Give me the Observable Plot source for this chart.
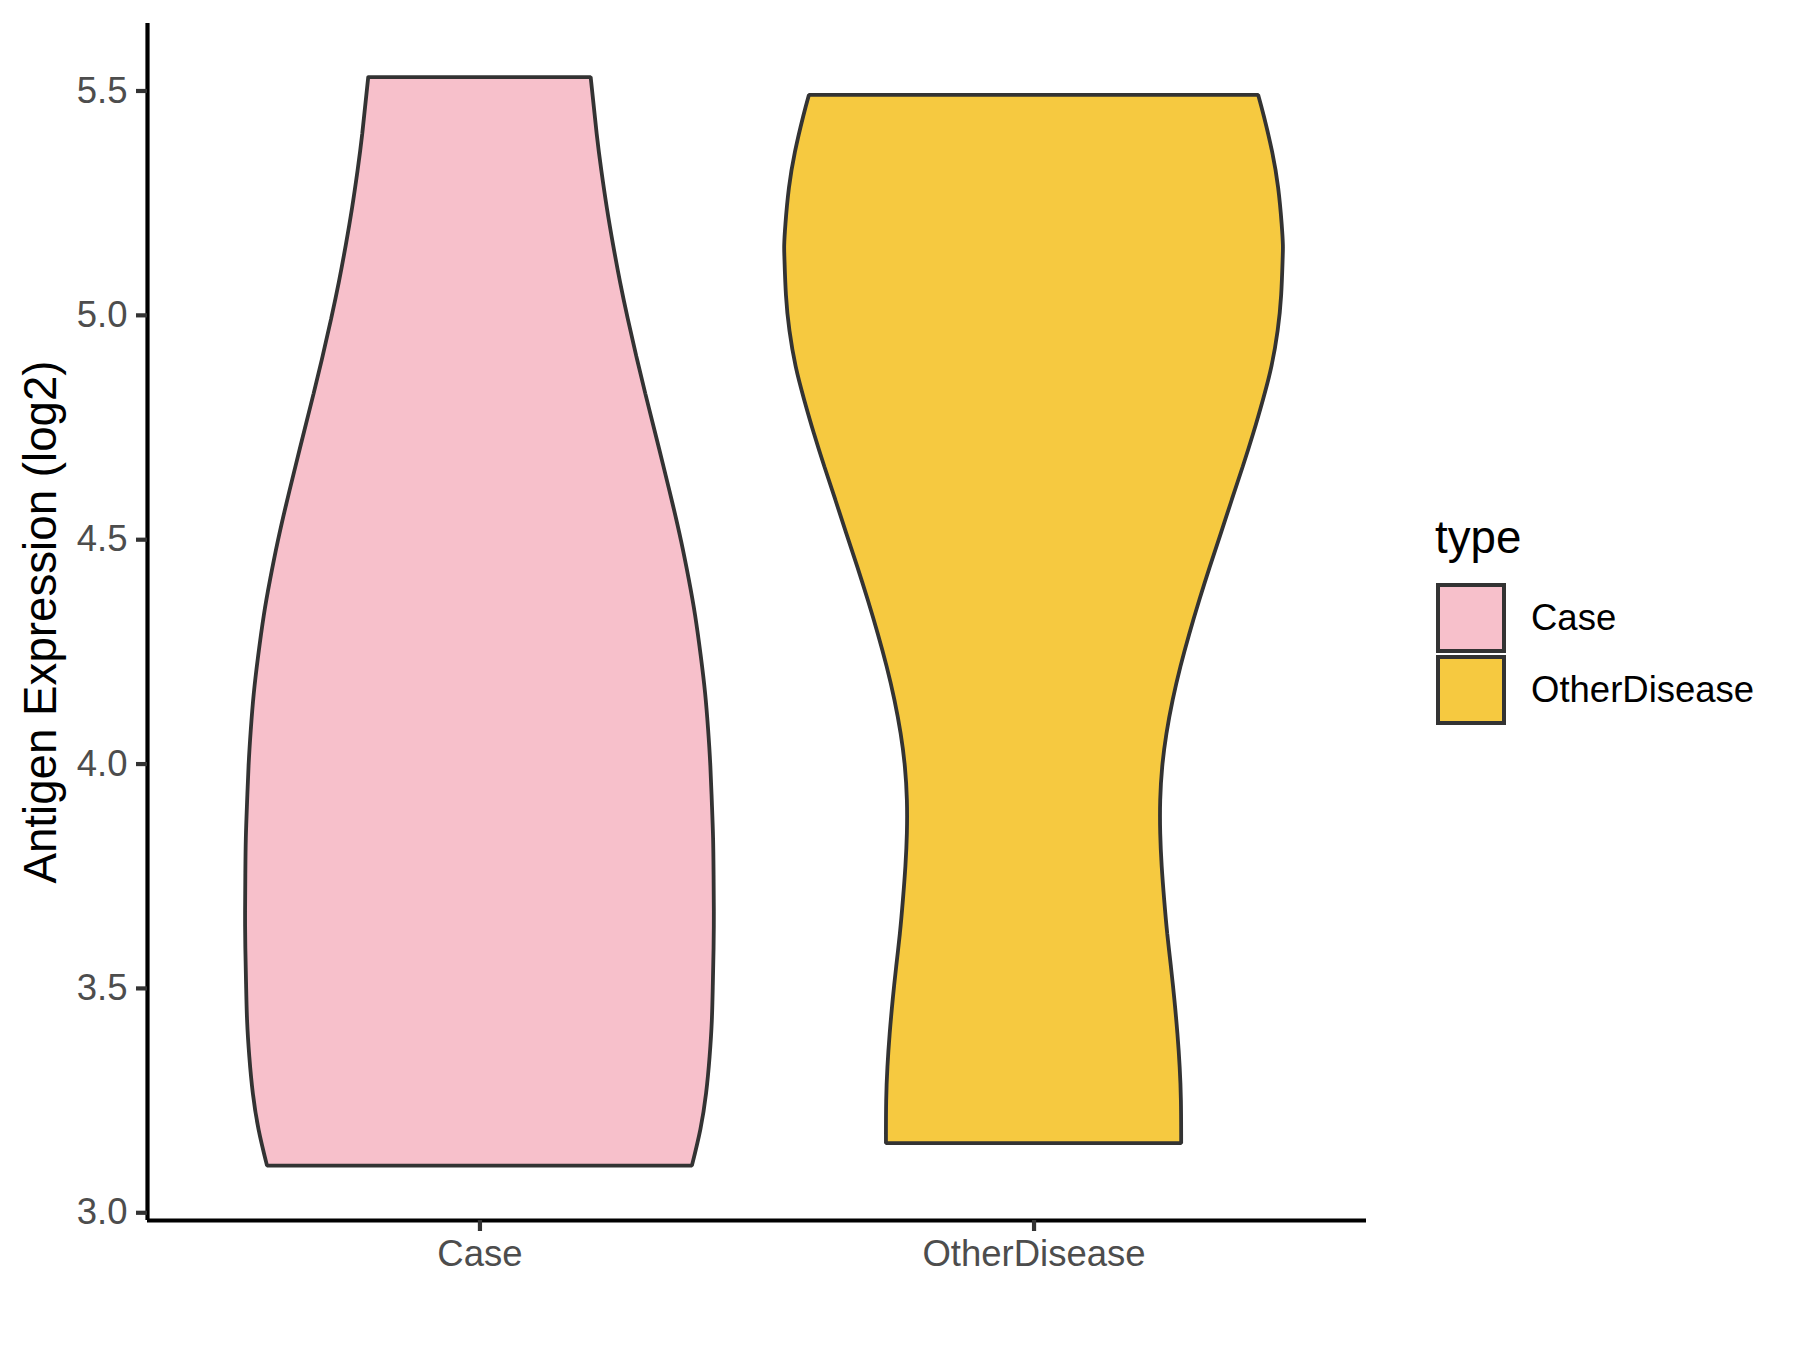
<!DOCTYPE html>
<html><head><meta charset="utf-8">
<script src="https://cdn.jsdelivr.net/npm/d3@7"></script>
<script src="https://cdn.jsdelivr.net/npm/@observablehq/plot@0.6"></script>
<style>
html,body{margin:0;padding:0;background:#fff;}
#wrap{position:relative;width:1800px;height:1350px;font-family:"Liberation Sans",Arial,Helvetica,sans-serif;}
#wrap svg{position:absolute;left:0;top:0;}
.lg{position:absolute;white-space:nowrap;line-height:1;color:#000;}
.key{position:absolute;box-sizing:border-box;border:4px solid #333;}
</style></head><body><div id="wrap"></div>
<script>
// ---- data ----
const categories = ["Case", "OtherDisease"];
const fillColors = ["#F7C0CB", "#F6C940"];
const legendTitle = "type";
const yTitle = "Antigen Expression (log2)";
const yTicks = [3.0, 3.5, 4.0, 4.5, 5.0, 5.5];
const yDomain = [2.9828, 5.6504];
const xDomain = [0.4, 2.6];

// violin outlines: expression value and scaled density (1 = widest violin)
const caseValues = [3.104, 3.185, 3.266, 3.347, 3.428, 3.509, 3.59, 3.671, 3.752, 3.833, 3.914, 3.995, 4.076, 4.157, 4.238, 4.33, 4.412, 4.495, 4.578, 4.66, 4.743, 4.825, 4.908, 4.991, 5.073, 5.156, 5.238, 5.321, 5.404, 5.53];
const caseWidths = [0.852, 0.886, 0.909, 0.923, 0.932, 0.936, 0.939, 0.940, 0.939, 0.937, 0.932, 0.926, 0.917, 0.905, 0.888, 0.865, 0.839, 0.809, 0.775, 0.739, 0.702, 0.665, 0.629, 0.595, 0.564, 0.536, 0.511, 0.489, 0.470, 0.446];
const otherValues = [3.154, 3.175, 3.249, 3.324, 3.398, 3.473, 3.547, 3.622, 3.696, 3.771, 3.845, 3.919, 3.993, 4.067, 4.142, 4.216, 4.290, 4.365, 4.439, 4.513, 4.588, 4.662, 4.736, 4.811, 4.885, 4.965, 5.044, 5.124, 5.156, 5.203, 5.283, 5.363, 5.442, 5.49];
const otherWidths = [0.592, 0.592, 0.591, 0.586, 0.577, 0.565, 0.551, 0.536, 0.524, 0.514, 0.508, 0.508, 0.516, 0.533, 0.558, 0.589, 0.625, 0.665, 0.707, 0.751, 0.795, 0.839, 0.881, 0.920, 0.954, 0.979, 0.993, 0.999, 1.000, 0.995, 0.981, 0.957, 0.924, 0.901];

// ---- build table ----
const halfMax = 0.45;
const rows = [];
caseValues.forEach((v, i) => rows.push({type: categories[0], pos: 1, v, w: caseWidths[i]}));
otherValues.forEach((v, i) => rows.push({type: categories[1], pos: 2, v, w: otherWidths[i]}));

const font = '"Liberation Sans", Arial, Helvetica, sans-serif';
const tickFont = 36.5, titleFont = 45.7;

const chart = Plot.plot({
  width: 1800,
  height: 1350,
  marginLeft: 147,
  marginRight: 434,
  marginTop: 23,
  marginBottom: 130,
  style: {fontFamily: font, background: "white", overflow: "visible"},
  x: {type: "linear", domain: xDomain},
  y: {type: "linear", domain: yDomain},
  color: {domain: categories, range: fillColors},
  marks: [
    Plot.areaX(rows, {
      y: "v",
      x1: d => d.pos - halfMax * d.w,
      x2: d => d.pos + halfMax * d.w,
      z: "type",
      fill: "type",
      stroke: "#333333",
      strokeWidth: 3.8,
      strokeLinejoin: "miter",
      curve: "natural"
    }),
    Plot.ruleX([xDomain[0]], {stroke: "#000", strokeWidth: 4.2}),
    Plot.ruleY([yDomain[0]], {stroke: "#000", strokeWidth: 4.2}),
    Plot.axisY({ticks: yTicks, tickSize: 11, tickPadding: 9, tickFormat: d3.format(".1f"),
      stroke: "#333333", strokeWidth: 4.2, fill: "#4D4D4D", fontSize: tickFont, label: null}),
    Plot.axisX({ticks: [1, 2], tickSize: 11, tickPadding: 9, tickFormat: d => categories[d - 1],
      stroke: "#333333", strokeWidth: 4.2, fill: "#4D4D4D", fontSize: tickFont, label: null}),
    Plot.text([yTitle], {text: d => d, frameAnchor: "left", textAnchor: "middle", lineAnchor: "middle",
      rotate: -90, dx: -106, fontSize: titleFont, fill: "#000"})
  ]
});

const wrap = document.getElementById("wrap");
wrap.appendChild(chart);

// ---- legend (right side) ----
const t = document.createElement("div");
t.className = "lg";
t.textContent = legendTitle;
t.style.cssText = `left:1435px;top:515px;font-size:${titleFont}px;`;
wrap.appendChild(t);
categories.forEach((c, i) => {
  const k = document.createElement("div");
  k.className = "key";
  k.style.cssText = `left:1436px;top:${583 + i * 72}px;width:70px;height:70px;background:${fillColors[i]};`;
  wrap.appendChild(k);
  const l = document.createElement("div");
  l.className = "lg";
  l.textContent = c;
  l.style.cssText = `left:1531px;top:${600 + i * 72}px;font-size:${tickFont}px;`;
  wrap.appendChild(l);
});
</script></body></html>
